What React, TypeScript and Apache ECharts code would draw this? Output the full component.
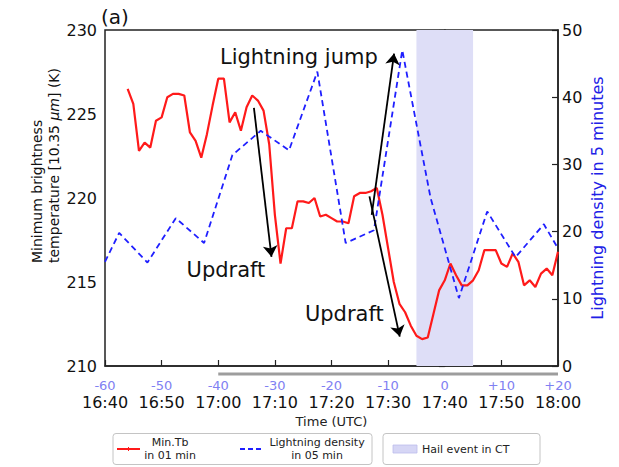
import React, { useEffect, useRef } from 'react';
import * as echarts from 'echarts';

// ---------- data ----------
const xTicks = [-60, -50, -40, -30, -20, -10, 0, 10, 20];
const relTickLabels = ['-60', '-50', '-40', '-30', '-20', '-10', '0', '+10', '+20'];
const timeTickLabels = ['16:40', '16:50', '17:00', '17:10', '17:20', '17:30', '17:40', '17:50', '18:00'];

// Minimum brightness temperature, 1-minute resolution (minutes relative to hail event)
const tbMinutes = [
  -56, -55, -54, -53, -52, -51, -50, -49, -48, -47, -46, -45, -44, -43, -42, -41, -40, -39, -38, -37,
  -36, -35, -34, -33, -32, -31, -30, -29, -28, -27, -26, -25, -24, -23, -22, -21, -20, -19, -18, -17,
  -16, -15, -14, -13, -12, -11, -10, -9, -8, -7, -6, -5, -4, -3, -2, -1, 0, 1, 2, 3,
  4, 5, 6, 7, 8, 9, 10, 11, 12, 13, 14, 15, 16, 17, 18, 19, 20,
];
const tbValues = [
  226.5, 225.6, 222.8, 223.3, 223.0, 224.6, 224.8, 226.0, 226.2, 226.2, 226.1, 223.9, 223.4, 222.4, 223.8, 225.5, 227.1, 227.1, 224.5, 225.1,
  224.0, 225.4, 226.1, 225.8, 225.2, 223.2, 219.0, 216.1, 218.2, 218.2, 219.8, 219.8, 219.7, 220.0, 218.9, 219.0, 218.8, 218.6, 218.6, 218.5,
  220.1, 220.3, 220.3, 220.4, 220.6, 219.0, 217.0, 215.0, 213.7, 213.2, 212.4, 211.8, 211.6, 211.7, 213.1, 214.5, 215.1, 216.1, 215.4, 214.8,
  214.8, 215.1, 215.7, 216.9, 216.9, 216.9, 216.1, 215.9, 216.7, 216.2, 214.8, 215.1, 214.7, 215.5, 215.8, 215.4, 216.8,
];

// Lightning density in 5-minute bins
const ldMinutes = [-60, -57.5, -52.5, -47.5, -42.5, -37.5, -32.5, -27.5, -22.5, -17.5, -12.5, -7.5, -2.5, 2.5, 7.5, 12.5, 17.5, 20];
const ldValues = [15.5, 19.8, 15.4, 22.0, 18.3, 31.4, 35.0, 32.1, 43.8, 18.3, 20.2, 47.0, 25.0, 10.1, 23.0, 16.2, 21.1, 17.5];

const hailWindow = [-5, 5];
const leadWindow = [-40, 20];

const FONT = 'DejaVu Sans';

export default function App() {
  const ref = useRef<HTMLDivElement>(null);

  useEffect(() => {
    const chart = echarts.init(ref.current as HTMLDivElement, null, { renderer: 'svg' });

    const option: any = {
      animation: false,
      textStyle: { fontFamily: FONT },
      grid: {
        left: 105, right: 61, top: 30, bottom: 101,
        show: true, borderColor: '#222', borderWidth: 1.5, backgroundColor: 'transparent',
      },
      xAxis: {
        type: 'value', min: -60, max: 20, interval: 10,
        name: 'Time (UTC)', nameLocation: 'middle', nameGap: 49,
        nameTextStyle: { fontSize: 13, color: '#222', fontFamily: FONT },
        axisLine: { show: true, lineStyle: { color: '#222', width: 1.5 } },
        axisTick: { show: true, inside: true, length: 6, lineStyle: { color: '#222', width: 1.2 } },
        splitLine: { show: false },
        axisLabel: {
          margin: 12,
          formatter: (v: number) => {
            const i = xTicks.indexOf(Math.round(v));
            return `{a|${relTickLabels[i]}}\n{b|${timeTickLabels[i]}}`;
          },
          rich: {
            a: { fontSize: 13, color: '#8080f2', lineHeight: 15, fontFamily: FONT },
            b: { fontSize: 16, color: '#111', lineHeight: 18, fontFamily: FONT },
          },
        },
      },
      yAxis: [
        {
          type: 'value', min: 210, max: 230, interval: 5, position: 'left',
          axisLine: { show: true, lineStyle: { color: '#222', width: 1.5 } },
          axisTick: { show: true, inside: false, length: 6, lineStyle: { color: '#222', width: 1.2 } },
          splitLine: { show: false },
          axisLabel: { fontSize: 16, color: '#111', margin: 8, fontFamily: FONT },
        },
        {
          type: 'value', min: 0, max: 50, interval: 10, position: 'right',
          axisLine: { show: true, lineStyle: { color: '#222', width: 1.5 } },
          axisTick: { show: true, inside: true, length: 6, lineStyle: { color: '#222', width: 1.2 } },
          splitLine: { show: false },
          axisLabel: { fontSize: 16, color: '#111', margin: 4, fontFamily: FONT },
        },
      ],
      series: [
        {
          name: 'Min.Tb in 01 min',
          type: 'line',
          yAxisIndex: 0,
          data: tbMinutes.map((t, i) => [t, tbValues[i]]),
          showSymbol: false,
          lineStyle: { color: '#ff1a1a', width: 2.2 },
          z: 2,
          silent: true,
          markArea: {
            silent: true,
            itemStyle: { color: '#dedef7', opacity: 1 },
            data: [[{ xAxis: hailWindow[0] }, { xAxis: hailWindow[1] }]],
          },
          markLine: {
            silent: true,
            symbol: ['none', 'arrow'],
            symbolSize: 11,
            label: { show: false },
            lineStyle: { color: '#000', width: 1.8, type: 'solid' },
            data: [
              [{ coord: [-33.7, 225.36] }, { coord: [-30.6, 216.5] }],
              [{ coord: [-12.9, 219.0] }, { coord: [-8.95, 228.6] }],
              [{ coord: [-13.3, 220.1] }, { coord: [-7.95, 211.75] }],
            ],
          },
        },
        {
          name: 'Lightning density in 05 min',
          type: 'line',
          yAxisIndex: 1,
          data: ldMinutes.map((t, i) => [t, ldValues[i]]),
          showSymbol: false,
          lineStyle: { color: '#1f1fff', width: 1.8, type: [6, 4] },
          z: 3,
          silent: true,
        },
      ],
    };

    chart.setOption(option);

    const px = (t: number, T: number) =>
      chart.convertToPixel({ xAxisIndex: 0, yAxisIndex: 0 }, [t, T]) as number[];

    const [xa] = px(leadWindow[0], 210);
    const [xb] = px(leadWindow[1], 210);
    const [, yBottom] = px(0, 210);

    const annots: { text: string; at: [number, number] }[] = [
      { text: 'Lightning jump', at: [-39.7, 228.4] },
      { text: 'Updraft', at: [-45.6, 215.7] },
      { text: 'Updraft', at: [-24.7, 213.1] },
    ];

    const graphic: any[] = [
      {
        type: 'rect', silent: true,
        shape: { x: xa, y: yBottom + 6.5, width: xb - xa, height: 3 },
        style: { fill: '#9d9d9d' },
      },
      ...annots.map((a) => {
        const [x, y] = px(a.at[0], a.at[1]);
        return {
          type: 'text', silent: true, x, y,
          style: { text: a.text, fontSize: 21, fontFamily: FONT, fill: '#111', textAlign: 'left', textVerticalAlign: 'middle' },
        };
      }),
      {
        type: 'text', silent: true, x: 101, y: 17,
        style: { text: '(a)', fontSize: 20, fontFamily: FONT, fill: '#111', textAlign: 'left', textVerticalAlign: 'middle' },
      },
      // left axis title (two lines, left-aligned, rotated)
      {
        type: 'text', silent: true, x: 37, y: 263, rotation: Math.PI / 2,
        style: { text: 'Minimum brightness', fontSize: 14, fontFamily: FONT, fill: '#111', textAlign: 'left', textVerticalAlign: 'middle' },
      },
      {
        type: 'text', silent: true, x: 54, y: 263, rotation: Math.PI / 2,
        style: {
          text: '{n|temperature [10.35 }{i|μm}{n|] (K)}',
          textAlign: 'left', textVerticalAlign: 'middle',
          rich: {
            n: { fontSize: 14, fontFamily: FONT, fill: '#111', color: '#111' },
            i: { fontSize: 14, fontFamily: FONT, fontStyle: 'italic', fill: '#111', color: '#111' },
          },
        },
      },
      // right axis title
      {
        type: 'text', silent: true, x: 597, y: 198, rotation: Math.PI / 2,
        style: { text: 'Lightning density in 5 minutes', fontSize: 16, fontFamily: FONT, fill: '#2020e6', textAlign: 'center', textVerticalAlign: 'middle' },
      },
      // legend box 1
      {
        type: 'rect', silent: true,
        shape: { x: 113, y: 433.5, width: 259, height: 31, r: 3 },
        style: { fill: '#fff', stroke: '#c4c4c4', lineWidth: 1 },
      },
      { type: 'line', silent: true, shape: { x1: 117, y1: 449, x2: 140, y2: 449 }, style: { stroke: '#ff1a1a', lineWidth: 2 } },
      { type: 'line', silent: true, shape: { x1: 128.5, y1: 447, x2: 128.5, y2: 451 }, style: { stroke: '#ff1a1a', lineWidth: 1 } },
      {
        type: 'text', silent: true, x: 170, y: 442,
        style: { text: 'Min.Tb', fontSize: 11, fontFamily: FONT, fill: '#222', textAlign: 'center', textVerticalAlign: 'middle' },
      },
      {
        type: 'text', silent: true, x: 170, y: 455.5,
        style: { text: 'in 01 min', fontSize: 11, fontFamily: FONT, fill: '#222', textAlign: 'center', textVerticalAlign: 'middle' },
      },
      { type: 'line', silent: true, shape: { x1: 240, y1: 449, x2: 262, y2: 449 }, style: { stroke: '#1f1fff', lineWidth: 2, lineDash: [5, 3] } },
      {
        type: 'text', silent: true, x: 317, y: 442,
        style: { text: 'Lightning density', fontSize: 11, fontFamily: FONT, fill: '#222', textAlign: 'center', textVerticalAlign: 'middle' },
      },
      {
        type: 'text', silent: true, x: 317, y: 455.5,
        style: { text: 'in 05 min', fontSize: 11, fontFamily: FONT, fill: '#222', textAlign: 'center', textVerticalAlign: 'middle' },
      },
      // legend box 2
      {
        type: 'rect', silent: true,
        shape: { x: 383, y: 433.5, width: 157, height: 31, r: 3 },
        style: { fill: '#fff', stroke: '#c4c4c4', lineWidth: 1 },
      },
      {
        type: 'rect', silent: true,
        shape: { x: 393, y: 445, width: 24, height: 8 },
        style: { fill: '#d6d6f5', stroke: '#bcbcec', lineWidth: 0.8 },
      },
      {
        type: 'text', silent: true, x: 422, y: 449,
        style: { text: 'Hail event in CT', fontSize: 11, fontFamily: FONT, fill: '#222', textAlign: 'left', textVerticalAlign: 'middle' },
      },
    ];

    chart.setOption({ graphic });

    return () => {
      chart.dispose();
    };
  }, []);

  return (
    <div
      ref={ref}
      style={{ position: 'absolute', left: 0, top: 0, width: 619, height: 467 }}
    />
  );
}
